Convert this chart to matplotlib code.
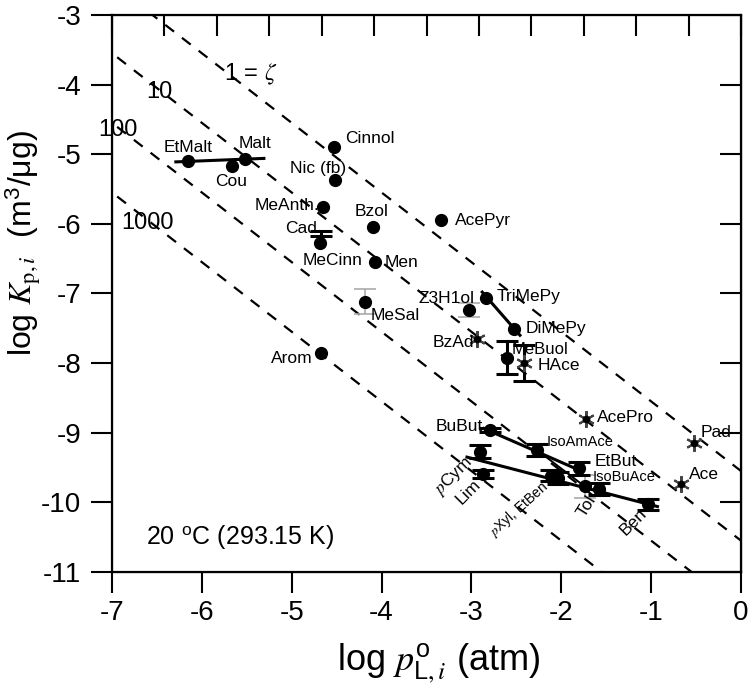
import numpy as np
import matplotlib
matplotlib.use('Agg')
import matplotlib.pyplot as plt

plt.rcParams['font.family'] = ['Liberation Sans', 'DejaVu Sans']
plt.rcParams['mathtext.fontset'] = 'stix'
plt.rcParams['axes.unicode_minus'] = False

# compounds drawn as filled circles: log p_L (atm), log Kp (m3/ug)
dot_names = ['EtMalt', 'Cou', 'Malt', 'Cinnol', 'Nic', 'MeAnth', 'Bzol', 'MeCinn',
             'Men', 'AcePyr', 'MeSal', 'Z3H1ol', 'TriMePy', 'DiMePy', 'MeBuol', 'Arom',
             'BuBut', 'IsoAmAce', 'EtBut', 'IsoBuAce', 'Tol', 'Ben', 'pXyl', 'EtBen',
             'pCym', 'Lim']
dot_logp = [-6.15, -5.66, -5.52, -4.53, -4.52, -4.65, -4.10, -4.69,
            -4.07, -3.34, -4.19, -3.03, -2.84, -2.53, -2.61, -4.68,
            -2.79, -2.27, -1.80, -1.58, -1.74, -1.03, -2.11, -2.04,
            -2.90, -2.87]
dot_logk = [-5.10, -5.17, -5.07, -4.89, -5.37, -5.76, -6.04, -6.27,
            -6.55, -5.94, -7.12, -7.24, -7.07, -7.51, -7.92, -7.86,
            -8.96, -9.25, -9.51, -9.81, -9.77, -10.03, -9.62, -9.65,
            -9.27, -9.59]

# compounds drawn as stars
star_names = ['BzAd', 'HAce', 'AcePro', 'Pad', 'Ace']
star_logp = [-2.94, -2.42, -1.73, -0.52, -0.67]
star_logk = [-7.66, -8.00, -8.80, -9.15, -9.74]

# Cad: only its error bar shows
cad_logp = -4.68
cad_logk = -6.14

# vertical error bars (half widths, log units)
black_err = {'MeBuol': 0.24, 'HAce': 0.26, 'pCym': 0.09, 'Lim': 0.06,
             'IsoAmAce': 0.09, 'EtBut': 0.09, 'IsoBuAce': 0.09, 'Ben': 0.08,
             'pXyl': 0.08, 'EtBen': 0.08, 'BuBut': 0.03}
gray_err = {'MeSal': 0.18, 'Z3H1ol': 0.10, 'Tol': 0.17}
cad_err = 0.04

# fitted lines for the homologous series
fit_lines = {
    'maltols': ([-6.29, -5.31], [-5.11, -5.06]),
    'pyrazines': ([-2.88, -2.46], [-6.98, -7.60]),
    'butyrates': ([-2.86, -1.76], [-8.94, -9.56]),
    'aromatics': ([-3.05, -0.93], [-9.35, -10.06]),
    'acetates': ([-2.27, -1.74], [-9.25, -9.77]),
}

# reference lines of constant zeta (slope -1)
zeta = [1, 10, 100, 1000]
logk_at_p0 = -9.55  # zeta = 1 line at log p = 0

fig = plt.figure(figsize=(7.52, 6.93), dpi=100)
ax = fig.add_axes([0.149, 0.1746, 0.8364, 0.8038])

xx = np.array([-7.5, 0.5])
for z in zeta:
    ax.plot(xx, -xx + logk_at_p0 - np.log10(z), color='black', lw=1.6,
            dashes=(5, 4.5), zorder=1)

for name, (fx, fy) in fit_lines.items():
    lw = 1.4 if name == 'acetates' else 2.2
    ax.plot(fx, fy, color='black', lw=lw, zorder=2)

pos = {n: (x, y) for n, x, y in zip(dot_names, dot_logp, dot_logk)}
pos.update({n: (x, y) for n, x, y in zip(star_names, star_logp, star_logk)})

for n, e in gray_err.items():
    x, y = pos[n]
    ax.errorbar(x, y, yerr=e, fmt='none', ecolor='#aaaaaa', elinewidth=1.2,
                capsize=8, capthick=1.2, zorder=2)
for n, e in black_err.items():
    x, y = pos[n]
    ax.errorbar(x, y, yerr=e, fmt='none', ecolor='black', elinewidth=2.2,
                capsize=8, capthick=2.2, zorder=3)
ax.errorbar(cad_logp, cad_logk, yerr=cad_err, fmt='none', ecolor='black',
            elinewidth=2.2, capsize=8, capthick=2.2, zorder=3)

ax.plot(dot_logp, dot_logk, 'o', color='black', ms=8.5, zorder=4, ls='none')
ax.plot(star_logp, star_logk, ls='none', marker=(6, 2, 0), ms=12, mew=1.5,
        color='#444444', zorder=4)
ax.plot(star_logp, star_logk, ls='none', marker='o', ms=4.5, color='black', zorder=5)

# point labels: text, x, y, size, rotation, ha
labels = [
    ('EtMalt', -6.15, -4.91, 12.5, 0, 'center'),
    ('Malt', -5.41, -4.84, 12.5, 0, 'center'),
    ('Cou', -5.68, -5.39, 12.5, 0, 'center'),
    ('Cinnol', -4.41, -4.77, 12.5, 0, 'left'),
    ('Nic (fb)', -4.71, -5.21, 12.5, 0, 'center'),
    ('MeAnth.', -4.69, -5.73, 12.5, 0, 'right'),
    ('Bzol', -4.11, -5.82, 12.5, 0, 'center'),
    ('Cad', -4.72, -6.07, 12.5, 0, 'right'),
    ('MeCinn', -4.55, -6.52, 12.5, 0, 'center'),
    ('Men', -3.78, -6.55, 12.5, 0, 'center'),
    ('AcePyr', -2.87, -5.95, 12.5, 0, 'center'),
    ('MeSal', -3.85, -7.32, 12.5, 0, 'center'),
    ('Z3H1ol', -3.28, -7.07, 12.5, 0, 'center'),
    ('TriMePy', -2.37, -7.05, 12.5, 0, 'center'),
    ('DiMePy', -2.06, -7.50, 12.5, 0, 'center'),
    ('MeBuol', -2.24, -7.81, 12, 0, 'center'),
    ('HAce', -2.03, -8.03, 12.5, 0, 'center'),
    ('BzAd', -3.20, -7.71, 12.5, 0, 'center'),
    ('Arom', -5.00, -7.94, 12.5, 0, 'center'),
    ('AcePro', -1.29, -8.78, 12.5, 0, 'center'),
    ('BuBut', -3.14, -8.91, 12.5, 0, 'center'),
    ('IsoAmAce', -1.79, -9.13, 10.5, 0, 'center'),
    ('EtBut', -1.39, -9.41, 12.5, 0, 'center'),
    ('IsoBuAce', -1.30, -9.64, 10.5, 0, 'center'),
    ('Pad', -0.28, -8.99, 12.5, 0, 'center'),
    ('Ace', -0.41, -9.60, 12.5, 0, 'center'),
    ('$p$Cym', -3.20, -9.63, 12.5, 45, 'center'),
    ('Lim', -3.03, -9.85, 12.5, 45, 'center'),
    ('$p$Xyl, EtBen', -2.48, -10.11, 10, 42, 'center'),
    ('Tol', -1.72, -10.05, 12.5, 58, 'center'),
    ('Ben', -1.20, -10.28, 12.5, 45, 'center'),
]
for t, x, y, s, r, ha in labels:
    ax.text(x, y, t, fontsize=s, rotation=r, ha=ha, va='center', zorder=6)

# zeta line labels
ax.text(-5.46, -3.85, r'1 = $\zeta$', fontsize=17, ha='center', va='center')
ax.text(-6.47, -4.10, '10', fontsize=17, ha='center', va='center')
ax.text(-6.93, -4.65, '100', fontsize=17, ha='center', va='center')
ax.text(-6.60, -5.99, '1000', fontsize=17, ha='center', va='center')
ax.text(-5.58, -10.50, r'20 $^{\mathregular{o}}$C (293.15 K)', fontsize=18,
        ha='center', va='center')

ax.set_xlim(-7, 0)
ax.set_ylim(-11, -3)
ax.set_xticks(range(-7, 1))
ax.set_yticks(range(-11, -2))
ax.tick_params(direction='out', length=15, width=1.5, labelsize=20, pad=5)
ax.tick_params(axis='y', pad=7)
for sp in ax.spines.values():
    sp.set_linewidth(1.6)

ax.set_xlabel(r'log $p^{\mathregular{o}}_{\mathregular{L},i}$ (atm)', fontsize=26)
ax.xaxis.set_label_coords(0.52, -0.125)
ax.set_ylabel(r'log $K_{\mathrm{p},i}$  (m$^{\mathregular{3}}$/μg)', fontsize=23)
ax.yaxis.set_label_coords(-0.11, 0.59)

# top ticks: 12 intervals, inward, no labels
top = ax.twiny()
top.set_xlim(0, 12)
top.set_xticks(range(13))
top.tick_params(direction='in', length=15, width=1.5, labeltop=False)
# right ticks inward
right = ax.secondary_yaxis('right')
right.set_yticks(range(-11, -2))
right.tick_params(direction='in', length=15, width=1.5, labelright=False)

fig.savefig('out.png', dpi=100)
